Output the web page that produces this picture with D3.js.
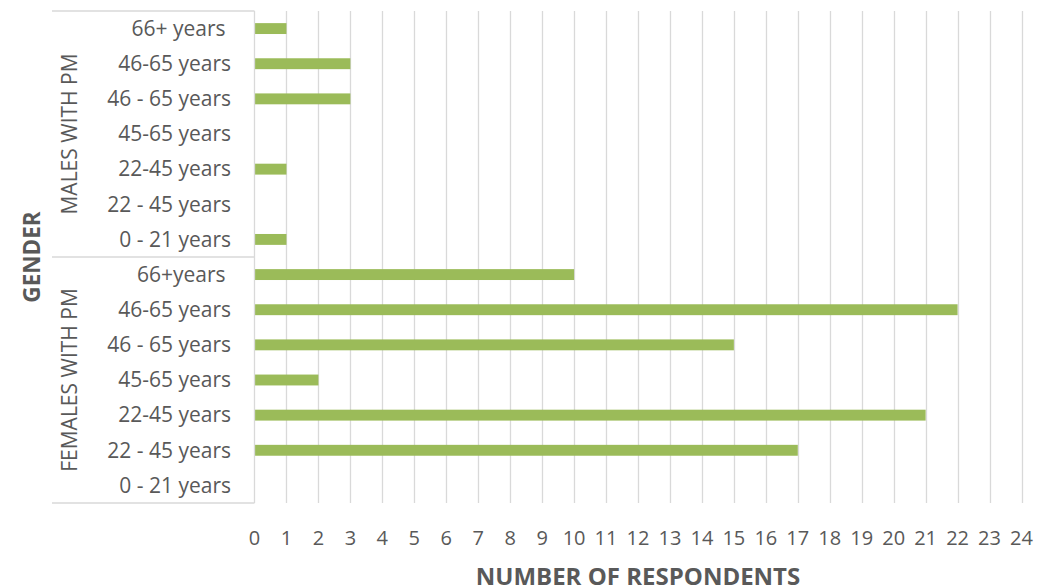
<!DOCTYPE html>
<html>
<head>
<meta charset="utf-8">
<script src="https://cdn.jsdelivr.net/npm/d3@7"></script>
<style>
  body { margin: 0; background: #fff; }
  text { font-family: "Open Sans", Lato, sans-serif; fill: #595959; }
</style>
</head>
<body>
<div id="chart"></div>
<script>
// data, top row first
var groups = ["MALES WITH PM", "FEMALES WITH PM"];
var maleAges = ["66+ years ", "46-65 years", "46 - 65 years", "45-65 years", "22-45 years", "22 - 45 years", "0 - 21 years"];
var maleCounts = [1, 3, 3, 0, 1, 0, 1];
var femaleAges = ["66+years ", "46-65 years", "46 - 65 years", "45-65 years", "22-45 years", "22 - 45 years", "0 - 21 years"];
var femaleCounts = [10, 22, 15, 2, 21, 17, 0];
var xTicks = d3.range(0, 25);

var rows = [];
maleAges.forEach(function(a, i) { rows.push({ key: "m" + i, group: groups[0], age: a, value: maleCounts[i] }); });
femaleAges.forEach(function(a, i) { rows.push({ key: "f" + i, group: groups[1], age: a, value: femaleCounts[i] }); });

var W = 1060, H = 586;
var plotL = 254.5, plotR = 1021.5, plotT = 11, plotB = 503;

var svg = d3.select("#chart").append("svg")
  .attr("width", W).attr("height", H);

var x = d3.scaleLinear().domain([0, 24]).range([plotL, plotR]);
var y = d3.scaleBand().domain(rows.map(function(d) { return d.key; }))
  .range([plotT, plotB]).paddingInner(0.69).paddingOuter(0.345);
var yRow = d3.scaleBand().domain(rows.map(function(d) { return d.key; }))
  .range([plotT, plotB]);

// gridlines
svg.append("g").selectAll("line")
  .data(xTicks.slice(1))
  .enter().append("line")
  .attr("x1", function(d) { return Math.round(x(d)) + 0.5; })
  .attr("x2", function(d) { return Math.round(x(d)) + 0.5; })
  .attr("y1", plotT).attr("y2", plotB)
  .attr("stroke", "#d9d9d9").attr("stroke-width", 1.3);

// tick labels
svg.append("g").selectAll("text")
  .data(xTicks)
  .enter().append("text")
  .attr("x", function(d) { return x(d); })
  .attr("y", 545)
  .attr("text-anchor", "middle")
  .style("font-size", "20px")
  .text(function(d) { return d; });

// bars
svg.append("g").selectAll("rect")
  .data(rows)
  .enter().append("rect")
  .attr("x", x(0))
  .attr("y", function(d) { return y(d.key); })
  .attr("width", function(d) { return x(d.value) - x(0); })
  .attr("height", y.bandwidth())
  .attr("fill", "#9bbb59");

// category axis frame
var frame = svg.append("g").attr("stroke", "#d9d9d9").attr("stroke-width", 1.3);
frame.append("line").attr("x1", plotL).attr("x2", plotL).attr("y1", plotT).attr("y2", plotB);
var splits = [plotT, yRow("f0"), plotB];
frame.selectAll(".split").data(splits).enter().append("line")
  .attr("x1", 52).attr("x2", plotL)
  .attr("y1", function(d) { return d; }).attr("y2", function(d) { return d; });

// age labels
svg.append("g").selectAll("text")
  .data(rows)
  .enter().append("text")
  .attr("x", 231)
  .attr("y", function(d) { return yRow(d.key) + yRow.bandwidth() / 2; })
  .attr("dy", "0.35em")
  .attr("text-anchor", "end")
  .style("font-size", "21px")
  .style("white-space", "pre")
  .text(function(d) { return d.age; });

// group labels
var groupSpans = [[plotT, yRow("f0")], [yRow("f0"), plotB]];
svg.append("g").selectAll("text")
  .data(groups)
  .enter().append("text")
  .attr("transform", function(d, i) {
    return "translate(70," + (groupSpans[i][0] + groupSpans[i][1]) / 2 + ")rotate(-90)";
  })
  .attr("dy", "0.35em")
  .attr("text-anchor", "middle")
  .style("font-size", "21px")
  .text(function(d) { return d; });

// axis titles
svg.append("text")
  .attr("transform", "translate(32," + (plotT + plotB) / 2 + ")rotate(-90)")
  .attr("dy", "0.35em")
  .attr("text-anchor", "middle")
  .style("font-size", "22.5px").style("font-weight", "bold")
  .text("GENDER");

svg.append("text")
  .attr("x", (plotL + plotR) / 2)
  .attr("y", 585)
  .attr("text-anchor", "middle")
  .style("font-size", "24px").style("font-weight", "bold")
  .text("NUMBER OF RESPONDENTS");
</script>
</body>
</html>
